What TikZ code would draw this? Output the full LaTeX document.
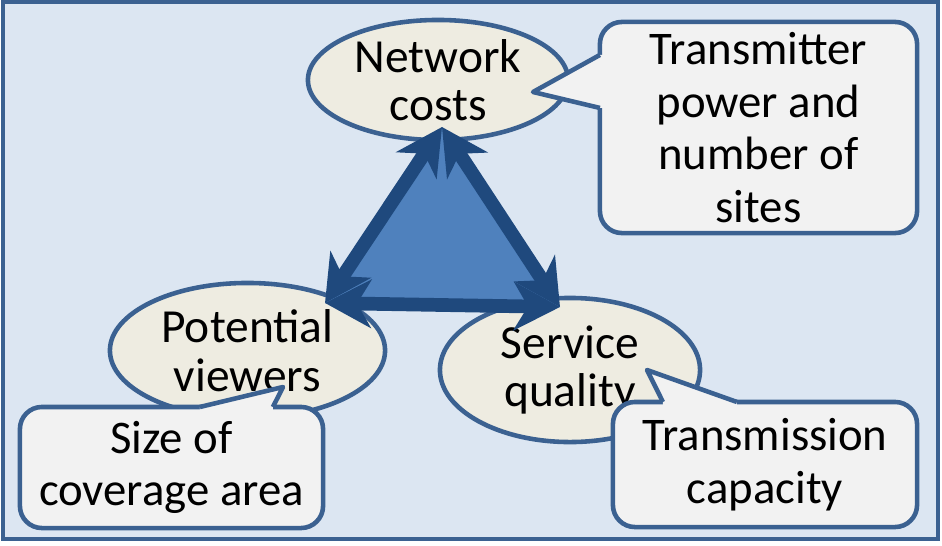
\documentclass[tikz,border=0pt]{standalone}
\usepackage{fontspec}
\setmainfont{Carlito}
\usetikzlibrary{arrows.meta,positioning,calc,shapes.geometric}
\definecolor{TradeBack}{HTML}{DCE6F2}
\definecolor{TradeFrame}{HTML}{3B6191}
\definecolor{TradeSand}{HTML}{EEECE1}
\definecolor{TradePanel}{HTML}{F2F2F2}
\definecolor{TradeNavy}{HTML}{1F497D}
\definecolor{TradeBlue}{HTML}{4F81BD}

\begin{document}
\begin{tikzpicture}[x=0.01cm,y=-0.01cm]
    \tikzset{tradegoal/.style={ellipse,draw=TradeFrame,fill=TradeSand,line width=1.3pt,inner sep=0pt,
      outer sep=0pt,align=center,font=\fontsize{13.5}{13.8}\selectfont},
      tradenote/.style={rectangle,rounded corners=0.22cm,draw=TradeFrame,fill=TradePanel,line width=1.3pt,
      inner sep=0pt,outer sep=0pt,align=center,font=\fontsize{13.3}{14.9}\selectfont},
      tradeside/.style={draw=TradeFrame,line width=1.3pt,line join=round},
      tradelink/.style={<->,>={Stealth[length=4.6mm,width=4.8mm,inset=1.4mm]},TradeNavy,line width=3.9pt}}
    \useasboundingbox (0,0) rectangle (942,545);
    \draw[fill=TradeBack,draw=TradeFrame,line width=1.4pt] (3,2) rectangle (938,539);
    \node[tradegoal,minimum width=2.6cm,minimum height=1.2cm] (cost) at (438,80) {Network\\costs};
    \node[tradegoal,minimum width=2.75cm,minimum height=1.35cm] (view) at (247.5,350.5) {Potential\\viewers};
    \node[tradegoal,minimum width=2.6cm,minimum height=1.44cm] (qual) at (570,370) {Service\\quality};
    \coordinate (apexC) at (442,127);
    \coordinate (apexV) at (325,303);
    \coordinate (apexQ) at (560,307);
    \fill[TradeBlue] (apexC) -- (apexV) -- (apexQ) -- cycle;
    \draw[tradelink] (apexC) -- (apexV);
    \draw[tradelink] (apexV) -- (apexQ);
    \draw[tradelink] (apexQ) -- (apexC);
    \node[tradenote,minimum width=3.17cm,minimum height=2.11cm] (power) at (758.5,127.5) {Transmitter\\power and\\number of\\sites};
    \coordinate (powerTip) at (533,92);
    \coordinate (powerA) at ($(power.north west)+(0,33)$);
    \coordinate (powerB) at ($(power.north west)+(0,86)$);
    \fill[TradePanel] ($(powerA)+(6,0)$) -- (powerA) -- (powerTip) -- (powerB) -- ($(powerB)+(6,0)$) -- cycle;
    \draw[tradeside] (powerA) -- (powerTip) -- (powerB);
    \node[tradenote,minimum width=3.03cm,minimum height=1.21cm] (area) at (171.5,467.5) {Size of\\coverage area};
    \coordinate (areaTip) at (283,387);
    \coordinate (areaA) at ($(area.north west)+(180,0)$);
    \coordinate (areaB) at ($(area.north west)+(253,0)$);
    \fill[TradePanel] ($(areaA)+(0,6)$) -- (areaA) -- (areaTip) -- (areaB) -- ($(areaB)+(0,6)$) -- cycle;
    \draw[tradeside] (areaA) -- (areaTip) -- (areaB);
    \node[tradenote,minimum width=3.04cm,minimum height=1.25cm] (cap) at (765,464.5) {Transmission\\capacity};
    \coordinate (capTip) at (647,370);
    \coordinate (capA) at ($(cap.north west)+(50,0)$);
    \coordinate (capB) at ($(cap.north west)+(124,0)$);
    \fill[TradePanel] ($(capA)+(0,6)$) -- (capA) -- (capTip) -- (capB) -- ($(capB)+(0,6)$) -- cycle;
    \draw[tradeside] (capA) -- (capTip) -- (capB);
  \end{tikzpicture}
\end{document}
